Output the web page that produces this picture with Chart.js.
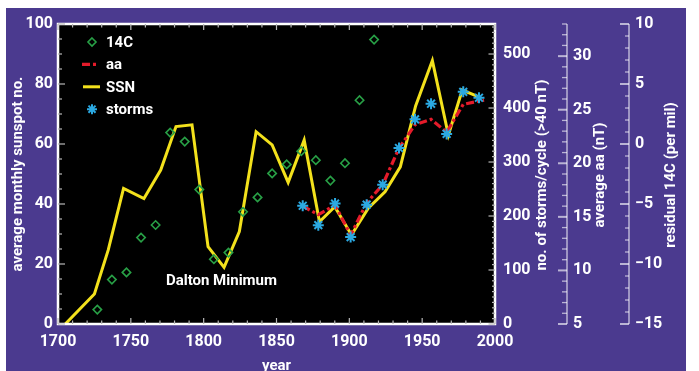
<!DOCTYPE html>
<html>
<head>
<meta charset="utf-8">
<script src="https://cdn.jsdelivr.net/npm/chart.js@4/dist/chart.umd.min.js"></script>
<style>
  html, body { margin: 0; padding: 0; background: #ffffff; }
  #wrap { position: relative; width: 699px; height: 371px; }
</style>
</head>
<body>
<div id="wrap"><canvas id="c" width="699" height="371"></canvas></div>
<script>
// Cycle-averaged sunspot number
const ssnYears  = [1705, 1725, 1734.5, 1745, 1759, 1770.5, 1781, 1792, 1803, 1814, 1824.5, 1836, 1847, 1858, 1869, 1879.5, 1890, 1901.5, 1913, 1924.5, 1935, 1945.5, 1957, 1968, 1977.5, 1988.5];
const ssnValues = [0, 10, 24.7, 45.2, 41.8, 51.3, 65.8, 66.4, 25.8, 18.9, 30.8, 64.1, 59.7, 47.2, 61.3, 34.1, 39.1, 29.7, 38.6, 44.1, 52.4, 72.7, 87.8, 63.0, 78.0, 75.8];

// Residual radiocarbon (per mil)
const c14Years  = [1727, 1737, 1747, 1757, 1767, 1777, 1787, 1797, 1807, 1817, 1827, 1837, 1847, 1857, 1867, 1877, 1887, 1897, 1907, 1917];
const c14Values = [-13.8, -11.3, -10.7, -7.8, -6.75, 0.95, 0.2, -3.8, -9.6, -9.05, -5.65, -4.45, -2.45, -1.7, -0.6, -1.35, -3.05, -1.6, 3.65, 8.7];

// Geomagnetic storms per solar cycle (>40 nT)
const stormYears  = [1868, 1878.7, 1890.2, 1900.9, 1911.9, 1922.9, 1934.1, 1945.1, 1956.1, 1966.8, 1978.2, 1989];
const stormCounts = [219, 183, 223, 161, 221, 258, 326, 379, 408, 352, 430, 419];

// Average aa index (nT)
const aaYears  = [1868, 1878.7, 1890.2, 1900.9, 1911.9, 1922.9, 1934.1, 1945.1, 1956.1, 1966.8, 1978.2, 1992.5];
const aaValues = [16.0, 15.2, 16.1, 13.3, 16.3, 18.0, 21.4, 23.6, 24.1, 22.9, 25.5, 25.9];

// Labelled tick values for each axis
const yearTicks  = [1700, 1750, 1800, 1850, 1900, 1950, 2000];
const ssnTicks   = [0, 20, 40, 60, 80, 100];
const stormTicks = [0, 100, 200, 300, 400, 500];
const aaTicks    = [5, 10, 15, 20, 25, 30];
const c14Ticks   = [-15, -10, -5, 0, 5, 10];

const FONT = "Roboto, 'Liberation Sans', sans-serif";
const PURPLE = '#4b3a8f';
const WHITE = '#ffffff';
const TXT = 15;
const TICK_TXT = 16;

Chart.defaults.font.family = FONT;
Chart.defaults.font.weight = 'bold';
Chart.defaults.color = WHITE;

const fixedTicks = list => scale => { scale.ticks = list.map(v => ({ value: v })); };
const plain = v => (v < 0 ? '\u2212' + Math.abs(v) : String(v));
const noGrid = { display: false, drawTicks: false };

// Small tick marks drawn along each axis edge
const edgeTicks = {
  x:       { step: 10, major: 50,  minorLen: 3.5, majorLen: 6,   color: '#b8b8b8' },
  y:       { step: 5,  major: 20,  minorLen: 4,   majorLen: 7,   color: '#b8b8b8' },
  yStorms: { step: 10, major: 100, minorLen: 3,   majorLen: 6.5, color: '#b8b8b8' },
  yAA:     { step: 1,  major: 5,   minorLen: 5,   majorLen: 9,   color: 'rgba(255,255,255,0.62)' },
  yC14:    { step: 1,  major: 5,   minorLen: 4,   majorLen: 9,   color: 'rgba(255,255,255,0.62)' }
};

const sideTitles = [
  { axis: 'yStorms', text: 'no. of storms/cycle (>40 nT)', dx: 47 },
  { axis: 'yAA',     text: 'average aa (nT)',              dx: 33 },
  { axis: 'yC14',    text: 'residual 14C (per mil)',        dx: 42 }
];

const daltonNote = { text: 'Dalton Minimum', year: 1812.2, ssn: 14.2 };

const panelPlugin = {
  id: 'panel',
  beforeDraw(chart) {
    const { ctx, chartArea: a, width, height } = chart;
    ctx.save();
    ctx.fillStyle = WHITE;
    ctx.fillRect(0, 0, width, height);
    ctx.fillStyle = PURPLE;
    ctx.fillRect(6, 8, 680, height - 8);
    ctx.fillStyle = '#000000';
    ctx.fillRect(a.left, a.top, a.right - a.left, a.bottom - a.top);
    ctx.restore();
  },
  afterDatasetsDraw(chart) {
    const { ctx, chartArea: a, scales } = chart;
    ctx.save();
    // plot frame
    ctx.strokeStyle = WHITE;
    ctx.lineWidth = 2.5;
    ctx.strokeRect(a.left, a.top, a.right - a.left, a.bottom - a.top);

    const each = (scale, cfg, fn) => {
      const n = Math.round((scale.max - scale.min) / cfg.step + 1e-6);
      const start = Math.ceil(scale.min / cfg.step - 1e-9) * cfg.step;
      for (let i = 0; i <= n; i++) {
        const v = start + i * cfg.step;
        if (v > scale.max + 1e-6) break;
        const major = Math.abs(v % cfg.major) < 1e-6;
        fn(scale.getPixelForValue(v), major ? cfg.majorLen : cfg.minorLen, major);
      }
    };
    const line = (x1, y1, x2, y2) => { ctx.beginPath(); ctx.moveTo(x1, y1); ctx.lineTo(x2, y2); ctx.stroke(); };

    ctx.lineWidth = 1.2;
    ctx.strokeStyle = edgeTicks.x.color;
    each(scales.x, edgeTicks.x, (p, len) => { line(p, a.bottom, p, a.bottom - len); line(p, a.top, p, a.top + len); });
    ctx.strokeStyle = edgeTicks.y.color;
    each(scales.y, edgeTicks.y, (p, len) => line(a.left, p, a.left + len, p));
    ctx.strokeStyle = edgeTicks.yStorms.color;
    each(scales.yStorms, edgeTicks.yStorms, (p, len) => line(a.right, p, a.right - len, p));

    ['yAA', 'yC14'].forEach(id => {
      const s = scales[id], cfg = edgeTicks[id];
      ctx.strokeStyle = cfg.color;
      ctx.lineWidth = 1.5;
      line(s.left, a.top, s.left, a.bottom);
      each(s, cfg, (p, len, major) => { ctx.lineWidth = major ? 2 : 1.3; line(s.left, p, s.left - len, p); });
    });
    ctx.restore();
  },
  afterDraw(chart) {
    const { ctx, chartArea: a, scales } = chart;
    ctx.save();
    ctx.fillStyle = WHITE;
    ctx.font = 'bold ' + TXT + 'px ' + FONT;
    ctx.textBaseline = 'middle';

    // right-hand axis titles, reading upwards
    sideTitles.forEach(t => {
      const s = scales[t.axis];
      ctx.save();
      ctx.translate(s.left + t.dx, (a.top + a.bottom) / 2 + 1);
      ctx.rotate(-Math.PI / 2);
      ctx.textAlign = 'center';
      ctx.fillText(t.text, 0, 0);
      ctx.restore();
    });

    // annotation
    ctx.textAlign = 'center';
    ctx.fillText(daltonNote.text, scales.x.getPixelForValue(daltonNote.year), scales.y.getPixelForValue(daltonNote.ssn));

    // legend
    const ds = chart.data.datasets;
    const byLabel = l => ds.find(d => d.label === l);
    const sx = a.left + 34, tx = a.left + 48;
    const rows = ['14C', 'aa', 'SSN', 'storms'];
    ctx.textAlign = 'left';
    rows.forEach((label, i) => {
      const y = a.top + 18 + i * 22.4;
      const d = byLabel(label);
      ctx.save();
      ctx.strokeStyle = d.borderColor;
      ctx.lineWidth = d.borderWidth;
      if (label === '14C') {
        const r = 4;
        ctx.beginPath();
        ctx.moveTo(sx, y - r); ctx.lineTo(sx + r, y); ctx.lineTo(sx, y + r); ctx.lineTo(sx - r, y); ctx.closePath();
        ctx.stroke();
      } else if (label === 'storms') {
        const r = 5;
        ctx.beginPath();
        for (let k = 0; k < 4; k++) {
          const ang = k * Math.PI / 4;
          ctx.moveTo(sx - r * Math.cos(ang), y - r * Math.sin(ang));
          ctx.lineTo(sx + r * Math.cos(ang), y + r * Math.sin(ang));
        }
        ctx.stroke();
      } else {
        ctx.setLineDash(d.borderDash || []);
        ctx.beginPath();
        ctx.moveTo(sx - (label === 'aa' ? 10 : 9), y);
        ctx.lineTo(sx + (label === 'aa' ? 4 : 8), y);
        ctx.stroke();
      }
      ctx.restore();
      ctx.fillText(label, tx, y + 1);
    });
    ctx.restore();
  }
};

const pts = (xs, ys) => xs.map((x, i) => ({ x, y: ys[i] }));

new Chart(document.getElementById('c'), {
  type: 'line',
  data: {
    datasets: [
      { label: 'storms', data: pts(stormYears, stormCounts), yAxisID: 'yStorms', showLine: false,
        pointStyle: 'star', pointRadius: 5.5, borderColor: '#2ba9e2', backgroundColor: '#2ba9e2', borderWidth: 2, order: 0 },
      { label: 'aa', data: pts(aaYears, aaValues), yAxisID: 'yAA', borderColor: '#e41b2a', borderWidth: 3.2,
        borderDash: [8, 3, 3, 3], pointRadius: 0, tension: 0, order: 1 },
      { label: '14C', data: pts(c14Years, c14Values), yAxisID: 'yC14', showLine: false,
        pointStyle: 'rectRot', pointRadius: 4.2, borderColor: '#28a046', backgroundColor: 'rgba(0,0,0,0)', borderWidth: 1.6, order: 2 },
      { label: 'SSN', data: pts(ssnYears, ssnValues), yAxisID: 'y', borderColor: '#f3e11c', borderWidth: 3,
        pointRadius: 0, tension: 0, order: 3 }
    ]
  },
  options: {
    responsive: false,
    animation: false,
    devicePixelRatio: 1,
    layout: { padding: { top: 24, left: 0, right: 0, bottom: 0 } },
    plugins: { legend: { display: false }, tooltip: { enabled: false } },
    scales: {
      x: {
        type: 'linear', position: 'bottom', min: 1700, max: 2000,
        afterBuildTicks: fixedTicks(yearTicks),
        afterFit: s => { s.height = 47; },
        grid: noGrid, border: { display: false },
        ticks: { font: { size: TICK_TXT }, padding: 8, maxRotation: 0, autoSkip: false, color: WHITE, callback: plain },
        title: { display: true, text: 'year', color: WHITE, font: { size: TXT }, padding: { top: 0, bottom: -4 } }
      },
      y: {
        type: 'linear', position: 'left', min: 0, max: 100,
        afterBuildTicks: fixedTicks(ssnTicks),
        afterFit: s => { s.width = 58; },
        grid: noGrid, border: { display: false },
        ticks: { font: { size: TICK_TXT }, padding: 5, color: WHITE, callback: plain },
        title: { display: true, text: 'average monthly sunspot no.', color: WHITE, font: { size: TXT }, padding: { top: 9, bottom: 0 } }
      },
      yStorms: {
        type: 'linear', position: 'right', weight: 1, min: 0, max: 555.6,
        afterBuildTicks: fixedTicks(stormTicks),
        afterFit: s => { s.width = 72; },
        grid: noGrid, border: { display: false },
        ticks: { font: { size: TICK_TXT }, padding: 8, color: WHITE, callback: plain }
      },
      yAA: {
        type: 'linear', position: 'right', weight: 2, min: 5, max: 33,
        afterBuildTicks: fixedTicks(aaTicks),
        afterFit: s => { s.width = 62; },
        grid: noGrid, border: { display: false },
        ticks: { font: { size: TICK_TXT }, padding: 6, color: WHITE, callback: plain }
      },
      yC14: {
        type: 'linear', position: 'right', weight: 3, min: -15, max: 10,
        afterBuildTicks: fixedTicks(c14Ticks),
        afterFit: s => { s.width = 70; },
        grid: noGrid, border: { display: false },
        ticks: { font: { size: TICK_TXT }, padding: 6, color: WHITE, callback: plain }
      }
    }
  },
  plugins: [panelPlugin]
});
</script>
</body>
</html>
